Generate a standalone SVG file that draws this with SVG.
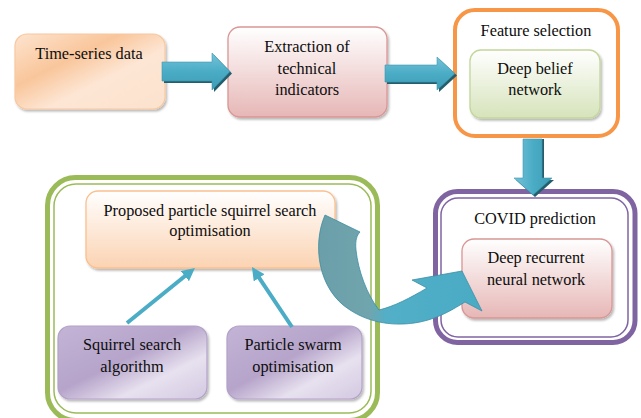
<svg xmlns="http://www.w3.org/2000/svg" width="641" height="418" viewBox="0 0 641 418">
<defs>
<style>
text{font-family:"Liberation Serif","Times New Roman",serif;font-size:16.3px;fill:#0d0d0d;text-anchor:middle}
.box{filter:url(#sh)}
.blk{fill:url(#gBlue);stroke:#3d97ae;stroke-width:0.6}
.blkSh{fill:#245e6d}
.ln{stroke:#4bacc6;stroke-width:4;fill:none;marker-end:url(#ah)}
</style>
<filter id="sh" x="-10%" y="-10%" width="125%" height="130%">
<feDropShadow dx="1.5" dy="2" stdDeviation="1" flood-color="#000" flood-opacity="0.28"/>
</filter>
<linearGradient id="gTS" x1="0" y1="0" x2="1" y2="1">
<stop offset="0" stop-color="#fde4cf"/><stop offset="0.35" stop-color="#f9c69b"/><stop offset="0.6" stop-color="#fde6d4"/><stop offset="1" stop-color="#fbe2cd"/>
</linearGradient>
<linearGradient id="gPink" x1="0" y1="0" x2="0" y2="1">
<stop offset="0" stop-color="#ffffff"/><stop offset="1" stop-color="#e6b7b6"/>
</linearGradient>
<linearGradient id="gGreen" x1="0" y1="0" x2="0" y2="1">
<stop offset="0" stop-color="#ffffff"/><stop offset="1" stop-color="#d6e3bb"/>
</linearGradient>
<linearGradient id="gPeach" x1="0" y1="0" x2="0" y2="1">
<stop offset="0" stop-color="#ffffff"/><stop offset="1" stop-color="#fbd3b2"/>
</linearGradient>
<linearGradient id="gPurp" x1="0" y1="0" x2="1" y2="1">
<stop offset="0" stop-color="#c3b4d6"/><stop offset="0.45" stop-color="#b6a4ca"/><stop offset="0.7" stop-color="#e7e1ef"/><stop offset="1" stop-color="#d3c8e1"/>
</linearGradient>
<linearGradient id="gBlue" x1="0" y1="0" x2="0" y2="1">
<stop offset="0" stop-color="#74c3d8"/><stop offset="0.5" stop-color="#4bacc6"/><stop offset="1" stop-color="#3d9cb5"/>
</linearGradient>
<linearGradient id="gBlueV" x1="0" y1="0" x2="1" y2="0">
<stop offset="0" stop-color="#74c3d8"/><stop offset="0.5" stop-color="#4bacc6"/><stop offset="1" stop-color="#3d9cb5"/>
</linearGradient>
<linearGradient id="gCurve" gradientUnits="userSpaceOnUse" x1="315" y1="0" x2="480" y2="0">
<stop offset="0" stop-color="#6a9ea8"/><stop offset="0.33" stop-color="#70a5ae"/><stop offset="0.43" stop-color="#52afc7"/><stop offset="1" stop-color="#4aabc5"/>
</linearGradient>
<marker id="ah" markerUnits="userSpaceOnUse" markerWidth="14" markerHeight="14" refX="3" refY="6.5" orient="auto">
<path d="M0,0 L13,6.5 L0,13 Z" fill="#4bacc6"/>
</marker>
</defs>
<rect width="641" height="418" fill="#ffffff"/>

<g id="node-timeseries">
<rect class="box" x="15" y="34" width="150" height="75" rx="12" fill="url(#gTS)" stroke="#f8c8a0" stroke-width="1.2"/>
<text x="89" y="59">Time-series data</text>
</g>

<g id="node-extraction">
<rect class="box" x="228" y="27" width="159" height="90" rx="12" fill="url(#gPink)" stroke="#d99694" stroke-width="1.3"/>
<text x="307" y="52">Extraction of</text>
<text x="307" y="73.5">technical</text>
<text x="307" y="95">indicators</text>
</g>

<g id="node-feature-selection">
<rect x="455" y="10" width="163" height="126" rx="20" fill="#ffffff" stroke="#f79646" stroke-width="4"/>
<text x="536" y="36">Feature selection</text>
</g>

<g id="node-dbn">
<rect class="box" x="470" y="50" width="130" height="68" rx="11" fill="url(#gGreen)" stroke="#c3d69b" stroke-width="1.3"/>
<text x="535" y="74">Deep belief</text>
<text x="535" y="95">network</text>
</g>

<g id="node-covid">
<rect x="435.5" y="191.5" width="199.5" height="151" rx="22" fill="#ffffff" stroke="#8064a2" stroke-width="5"/>
<rect x="441" y="198" width="187" height="139" rx="17" fill="none" stroke="#8064a2" stroke-width="1.5"/>
<text x="535" y="224">COVID prediction</text>
</g>

<g id="node-drnn">
<rect class="box" x="462" y="239" width="150" height="79" rx="12" fill="url(#gPink)" stroke="#d99694" stroke-width="1.3"/>
<text x="536" y="263">Deep recurrent</text>
<text x="536" y="285">neural network</text>
</g>

<g id="node-optimisation-group">
<rect x="47.5" y="177.5" width="330" height="243" rx="28" fill="#ffffff" stroke="#9bbb59" stroke-width="5"/>
<rect x="54" y="184" width="317" height="229" rx="22" fill="none" stroke="#9bbb59" stroke-width="1.5"/>
</g>

<g id="node-ppsso">
<rect class="box" x="86" y="191" width="249" height="77" rx="12" fill="url(#gPeach)" stroke="#fac090" stroke-width="1.3"/>
<text x="210" y="216">Proposed particle squirrel search</text>
<text x="210" y="236">optimisation</text>
</g>

<g id="node-ssa">
<rect class="box" x="58" y="326" width="149" height="73" rx="12" fill="url(#gPurp)" stroke="#b3a2c7" stroke-width="1.2"/>
<text x="132" y="350">Squirrel search</text>
<text x="132" y="372">algorithm</text>
</g>

<g id="node-pso">
<rect class="box" x="227" y="326" width="135" height="73" rx="12" fill="url(#gPurp)" stroke="#b3a2c7" stroke-width="1.2"/>
<text x="293" y="350">Particle swarm</text>
<text x="293" y="372">optimisation</text>
</g>

<g id="connectors">
<polygon class="blkSh" points="164,64 214,64 214,55 232,73.5 214,92 214,83 164,83"/>
<polygon class="blk" points="162,62 212,62 212,53 230,71.5 212,90 212,81 162,81"/>
<polygon class="blkSh" points="387,67 439,67 439,59 457,75.5 439,92 439,84 387,84"/>
<polygon class="blk" points="385,65 437,65 437,57 455,73.5 437,90 437,82 385,82"/>
<polygon class="blkSh" points="525,139 544,139 544,180 554,180 535,197 516,180 525,180"/>
<polygon points="523,139 542,139 542,178 552,178 533,195 514,178 523,178" fill="url(#gBlueV)" stroke="#3d97ae" stroke-width="0.6"/>
<path d="M325,215 C312,245 318,290 350,310 C370,323 395,327 420,322 C440,318 455,308 465,302 L482,311 L462,271 L412,280 L427,288 C410,298 395,306 379,310 C367,295 358,270 356,250 C355,240 357,235 360,232 Z" fill="url(#gCurve)" stroke="#3b8ea3" stroke-width="0.8"/>
<line class="ln" x1="127" y1="323" x2="187.2" y2="274.3"/>
<line class="ln" x1="292" y1="327" x2="257.5" y2="275.3"/>
</g>
</svg>
